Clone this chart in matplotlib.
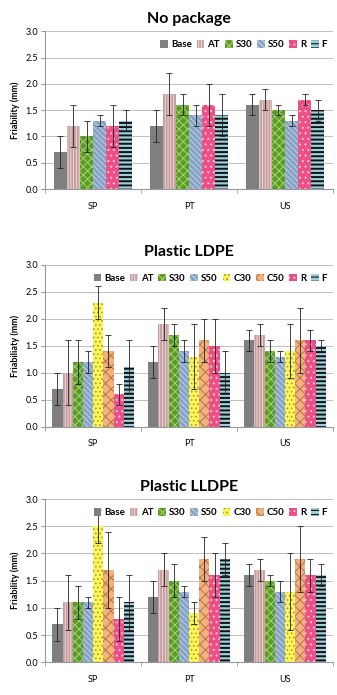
import numpy as np
import matplotlib
matplotlib.use('Agg')
import matplotlib.pyplot as plt

plt.rcParams['font.family'] = ['Lato', 'DejaVu Sans']
plt.rcParams['hatch.linewidth'] = 0.8

# data
groups = ['SP', 'PT', 'US']
series6 = ['Base', 'AT', 'S30', 'S50', 'R', 'F']
series8 = ['Base', 'AT', 'S30', 'S50', 'C30', 'C50', 'R', 'F']

# No package (rows = series6, cols = SP, PT, US)
nopkg_mean = [[0.7, 1.2, 1.6],
              [1.2, 1.8, 1.7],
              [1.0, 1.6, 1.5],
              [1.3, 1.4, 1.3],
              [1.2, 1.6, 1.7],
              [1.3, 1.4, 1.5]]
nopkg_err = [[0.3, 0.3, 0.2],
             [0.4, 0.4, 0.2],
             [0.3, 0.2, 0.1],
             [0.1, 0.2, 0.1],
             [0.4, 0.4, 0.1],
             [0.2, 0.4, 0.2]]

# Plastic LDPE (rows = series8)
ldpe_mean = [[0.7, 1.2, 1.6],
             [1.0, 1.9, 1.7],
             [1.2, 1.7, 1.4],
             [1.2, 1.4, 1.3],
             [2.3, 1.3, 1.4],
             [1.4, 1.6, 1.6],
             [0.6, 1.5, 1.6],
             [1.1, 1.0, 1.5]]
ldpe_err = [[0.3, 0.3, 0.2],
            [0.6, 0.3, 0.2],
            [0.4, 0.2, 0.2],
            [0.2, 0.2, 0.1],
            [0.3, 0.6, 0.5],
            [0.3, 0.4, 0.6],
            [0.2, 0.5, 0.2],
            [0.5, 0.4, 0.1]]

# Plastic LLDPE (rows = series8)
lldpe_mean = [[0.7, 1.2, 1.6],
              [1.1, 1.7, 1.7],
              [1.1, 1.5, 1.5],
              [1.1, 1.3, 1.3],
              [2.5, 0.9, 1.3],
              [1.7, 1.9, 1.9],
              [0.8, 1.6, 1.6],
              [1.1, 1.9, 1.6]]
lldpe_err = [[0.3, 0.3, 0.2],
             [0.5, 0.3, 0.2],
             [0.3, 0.3, 0.1],
             [0.1, 0.1, 0.2],
             [0.3, 0.2, 0.7],
             [0.7, 0.4, 0.6],
             [0.4, 0.4, 0.3],
             [0.5, 0.3, 0.2]]

# styles: face colour, hatch, hatch colour, hatch width
styles = {
    'Base': ('#7f7f7f', '', '#7f7f7f', 0.8),
    'AT':   ('#c49c9c', '||||||', '#ead8d8', 0.7),
    'S30':  ('#5a9a2a', 'xxxx', '#a6d468', 0.7),
    'S50':  ('#86a3c6', '\\\\\\\\\\\\', '#c8d6e8', 0.6),
    'C30':  ('#fbf55a', '....', '#a8a020', 0.7),
    'C50':  ('#f2b27e', 'xxx', '#b87446', 0.7),
    'R':    ('#ec4f86', '...', '#f8c0d2', 0.8),
    'F':    ('#9ccfdc', '----', '#111111', 1.4),
}

panels = [
    ('No package', series6, nopkg_mean, nopkg_err, 'Friability (mm)'),
    ('Plastic LDPE', series8, ldpe_mean, ldpe_err, 'Friabiliaty (mm)'),
    ('Plastic LLDPE', series8, lldpe_mean, lldpe_err, 'Friability (mm)'),
]
# axes positions [left, bottom, width, height] in figure fraction
positions = [[0.134, 0.728, 0.854, 0.227],
             [0.134, 0.386, 0.854, 0.233],
             [0.134, 0.047, 0.854, 0.235]]

fig = plt.figure(figsize=(3.37, 6.95), dpi=100)
x = np.arange(len(groups))
for (title, series, mean, err, ylab), pos in zip(panels, positions):
    ax = fig.add_axes(pos)
    n = len(series)
    total = 0.82 if n == 6 else 0.85
    w = total / n
    for i, s in enumerate(series):
        fc, hatch, hc, hw = styles[s]
        xs = x - total / 2 + w * (i + 0.5)
        with plt.rc_context({'hatch.linewidth': hw}):
            ax.bar(xs, mean[i], w, color=fc, hatch=hatch, edgecolor=hc,
                   linewidth=0, label=s, zorder=2)
        ax.errorbar(xs, mean[i], yerr=err[i], fmt='none', ecolor='#222222',
                    elinewidth=0.6, capsize=2, capthick=0.6, zorder=3)
    ax.set_xlim(-0.5, 2.5)
    ax.set_ylim(0, 3.0)
    ax.set_yticks(np.arange(0, 3.01, 0.5))
    ax.set_yticklabels(['%.1f' % v for v in np.arange(0, 3.01, 0.5)], fontsize=6.5)
    ax.set_xticks(x)
    ax.set_xticklabels(groups, fontsize=6.5)
    ax.set_xticks([-0.5, 0.5, 1.5, 2.5], minor=True)
    ax.tick_params(axis='x', which='major', length=0, pad=9)
    ax.tick_params(axis='x', which='minor', length=3, color='#999999')
    ax.tick_params(axis='y', length=3, color='#999999', pad=2)
    ax.grid(axis='y', color='#c0c0c0', linewidth=0.7, zorder=0)
    ax.set_axisbelow(True)
    for sp in ['top', 'right']:
        ax.spines[sp].set_visible(False)
    for sp in ['left', 'bottom']:
        ax.spines[sp].set_color('#999999')
        ax.spines[sp].set_linewidth(0.8)
    ax.set_ylabel(ylab, fontsize=6.5, fontweight='bold', labelpad=4)
    ax.set_title(title, fontsize=11.5, fontweight='bold', pad=6)
    leg = ax.legend(loc='upper right', ncol=n, frameon=False,
                    bbox_to_anchor=(1.0, 0.98),
                    prop={'size': 7, 'weight': 'bold'},
                    handlelength=0.8, handleheight=0.8, handletextpad=0.3,
                    columnspacing=0.5, borderaxespad=0.2)

fig.savefig('out.png', dpi=100)
